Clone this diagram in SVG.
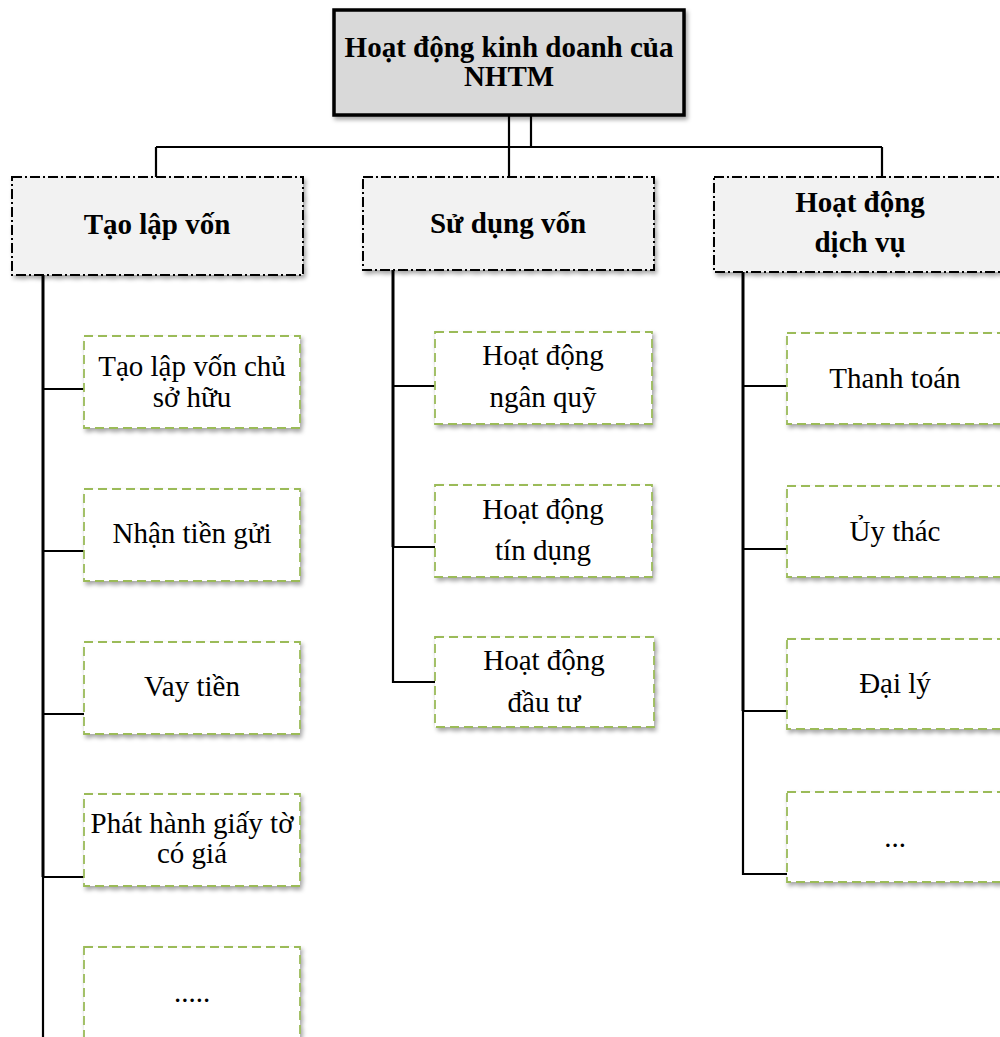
<svg xmlns="http://www.w3.org/2000/svg" width="1000" height="1037" viewBox="0 0 1000 1037">
<defs>
<filter id="sh" x="-10%" y="-10%" width="130%" height="140%">
<feDropShadow dx="2" dy="3" stdDeviation="2" flood-color="#000" flood-opacity="0.35"/>
</filter>
</defs>
<style>
.root{fill:#d9d9d9;stroke:#000;stroke-width:3.5}
.l1{fill:#f2f2f2;stroke:#000;stroke-width:2;stroke-dasharray:10 3 2 3}
.leaf{fill:#fff;stroke:#9bbb59;stroke-width:1.8;stroke-dasharray:9 5}
.b{font-family:"Liberation Serif","Times New Roman",serif;font-weight:bold;font-size:29px;fill:#000;text-anchor:middle}
.t{font-family:"Liberation Serif","Times New Roman",serif;font-size:29px;fill:#000;text-anchor:middle}
.c{fill:none;stroke:#000;stroke-width:2.2}
.ct{fill:none;stroke:#000;stroke-width:3}
</style>
<g id="connectors">
<path class="c" d="M509 115V177M531 115V147M156 147H882M156 147V177M882 147V177" stroke-width="2.5"/>
<path class="ct" d="M43 275V877"/>
<path class="c" d="M43 877V1037"/>
<path class="c" d="M43 389H84M43 551H84M43 714H84M43 877H84"/>
<path class="ct" d="M393 270V547"/>
<path class="c" d="M393 547V682H435M393 386H435M393 547H435"/>
<path class="ct" d="M743 272V711"/>
<path class="c" d="M743 711V874H787M743 386H787M743 549H787M743 711H787"/>
</g>
<g id="root">
<rect class="root" x="334" y="10" width="350" height="105" filter="url(#sh)"/>
<text class="b" x="509" y="57">Hoạt động kinh doanh của</text>
<text class="b" x="509" y="86">NHTM</text>
</g>
<g id="tao-lap-von">
<rect class="l1" x="12" y="177" width="291" height="98" filter="url(#sh)"/>
<text class="b" x="157" y="234">Tạo lập vốn</text>
</g>
<g id="su-dung-von">
<rect class="l1" x="363" y="177" width="291" height="93" filter="url(#sh)"/>
<text class="b" x="508" y="233">Sử dụng vốn</text>
</g>
<g id="hoat-dong-dich-vu">
<rect class="l1" x="714" y="177" width="300" height="95" filter="url(#sh)"/>
<text class="b" x="860" y="212">Hoạt động</text>
<text class="b" x="860" y="252">dịch vụ</text>
</g>
<g id="tlv-1">
<rect class="leaf" x="84" y="336" width="216" height="92" filter="url(#sh)"/>
<text class="t" x="192" y="376">Tạo lập vốn chủ</text>
<text class="t" x="192" y="407">sở hữu</text>
</g>
<g id="tlv-2">
<rect class="leaf" x="84" y="489" width="216" height="92" filter="url(#sh)"/>
<text class="t" x="192" y="543">Nhận tiền gửi</text>
</g>
<g id="tlv-3">
<rect class="leaf" x="84" y="642" width="216" height="92" filter="url(#sh)"/>
<text class="t" x="192" y="696">Vay tiền</text>
</g>
<g id="tlv-4">
<rect class="leaf" x="84" y="794" width="216" height="92" filter="url(#sh)"/>
<text class="t" x="192" y="833">Phát hành giấy tờ</text>
<text class="t" x="192" y="863">có giá</text>
</g>
<g id="tlv-5">
<rect class="leaf" x="84" y="947" width="216" height="110" filter="url(#sh)"/>
<text class="t" x="192" y="1002">.....</text>
</g>
<g id="sdv-1">
<rect class="leaf" x="435" y="332" width="217" height="92" filter="url(#sh)"/>
<text class="t" x="543" y="365">Hoạt động</text>
<text class="t" x="543" y="407">ngân quỹ</text>
</g>
<g id="sdv-2">
<rect class="leaf" x="435" y="485" width="217" height="92" filter="url(#sh)"/>
<text class="t" x="543" y="519">Hoạt động</text>
<text class="t" x="543" y="560">tín dụng</text>
</g>
<g id="sdv-3">
<rect class="leaf" x="435" y="637" width="219" height="90" filter="url(#sh)"/>
<text class="t" x="544" y="670">Hoạt động</text>
<text class="t" x="544" y="712">đầu tư</text>
</g>
<g id="dv-1">
<rect class="leaf" x="787" y="333" width="230" height="91" filter="url(#sh)"/>
<text class="t" x="895" y="388">Thanh toán</text>
</g>
<g id="dv-2">
<rect class="leaf" x="787" y="486" width="230" height="91" filter="url(#sh)"/>
<text class="t" x="895" y="541">Ủy thác</text>
</g>
<g id="dv-3">
<rect class="leaf" x="787" y="639" width="230" height="90" filter="url(#sh)"/>
<text class="t" x="895" y="693">Đại lý</text>
</g>
<g id="dv-4">
<rect class="leaf" x="787" y="792" width="230" height="90" filter="url(#sh)"/>
<text class="t" x="895" y="847">...</text>
</g>
</svg>
